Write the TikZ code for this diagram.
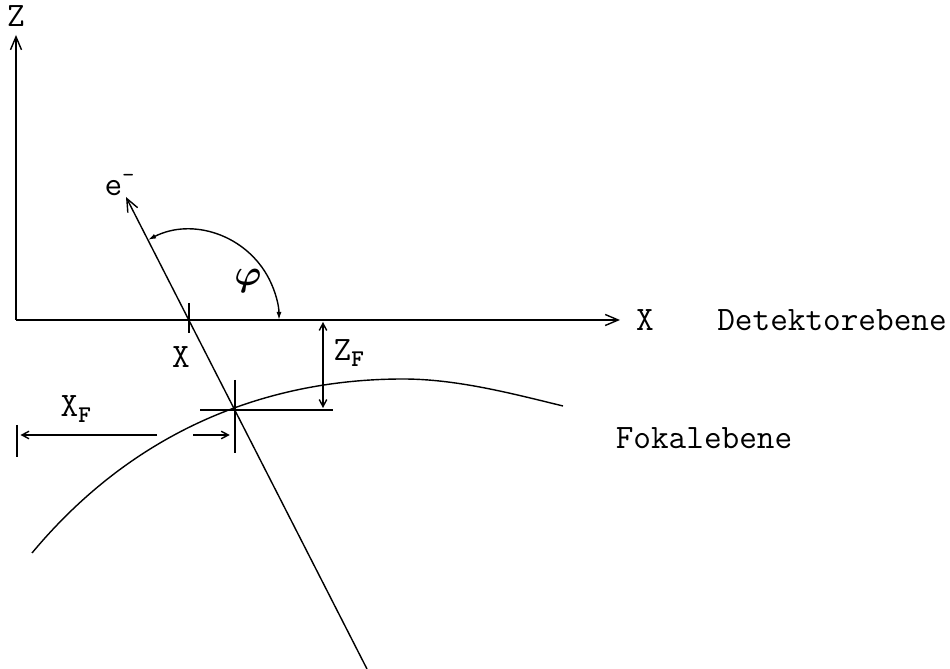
\documentclass[tikz,border=0pt]{standalone}
\usepackage{amsmath,amssymb,bm}
\usetikzlibrary{arrows.meta}
\begin{document}
\begin{tikzpicture}[
        x=0.02cm, y=0.02cm,
        every node/.style={inner sep=0pt, font=\fontsize{19.5}{23}\selectfont\ttfamily},
        eje/.style={-{Straight Barb[length=0.26cm,width=0.22cm]}},
        cota/.style={-{Straight Barb[length=0.14cm,width=0.15cm]}},
        cotadoble/.style={{Straight Barb[length=0.14cm,width=0.15cm]}-{Straight Barb[length=0.14cm,width=0.15cm]}},
        angulo/.style={{Latex[length=0.16cm,width=0.1cm]}-{Latex[length=0.16cm,width=0.1cm]}},
        line width=0.8pt
    ]
        \useasboundingbox (0,0) rectangle (950,669);
        % Ejes del sistema de coordenadas
        \coordinate (O) at (16,349);
        \coordinate (zTip) at (16,634);
        \coordinate (xTip) at (620,349);
        \draw[eje] (O) -- (zTip);
        \draw[eje] (O) -- (xTip);
        \node (zLab) at (16,653) {Z};
        \node (xLab) at (645,349) {X};
        \node (detektor) at (832,349) {Detektorebene};

        % Trayectoria del electrón y punto de cruce con el detector
        \coordinate (P) at (189,349);
        \coordinate (eTip) at (126,472);
        \coordinate (eEnd) at (367,0);
        \draw[eje] (eEnd) -- (eTip);
        \draw (P) ++(0,17) -- ++(0,-30);
        \node (eLab) at (120,484) {e\textsuperscript{-}};
        \node (xPos) at (181,312) {X};

        % Ángulo entre electrón y detector
        \draw[angulo] (P) ++(117.1:90) arc[start angle=117.1, end angle=0, radius=90];
        \node (phi) at (248,388) {$\bm{\varphi}$};

        % Punto focal y plano focal
        \coordinate (F) at (235,259);
        \draw (F) ++(-35,0) -- ++(133,0);
        \draw (F) ++(0,30) -- ++(0,-73);
        \draw (32,116) .. controls (142,248) and (280,290) .. (403,290)
            .. controls (456,290) and (510,276) .. (563,263);
        \node (fokal) at (704,231) {Fokalebene};

        % Cota Z_F
        \coordinate (zfTop) at (323,347);
        \coordinate (zfBot) at (323,261);
        \draw[cotadoble] (zfTop) -- (zfBot);
        \node[anchor=west] (zfLab) at (333,316) {Z\textsubscript{\bfseries F}};

        % Cota X_F
        \coordinate (xfTick) at (17,234);
        \coordinate (xfLeft) at (157,234);
        \coordinate (xfRight) at (193,234);
        \draw (xfTick) ++(0,10) -- ++(0,-32);
        \draw[cota] (xfLeft) -- ([xshift=2]xfTick);
        \draw[cota] (xfRight) -- ([xshift=-3]F |- xfRight);
        \node[anchor=west] (xfLab) at (60,260) {X\textsubscript{\bfseries F}};
\end{tikzpicture}
\end{document}
